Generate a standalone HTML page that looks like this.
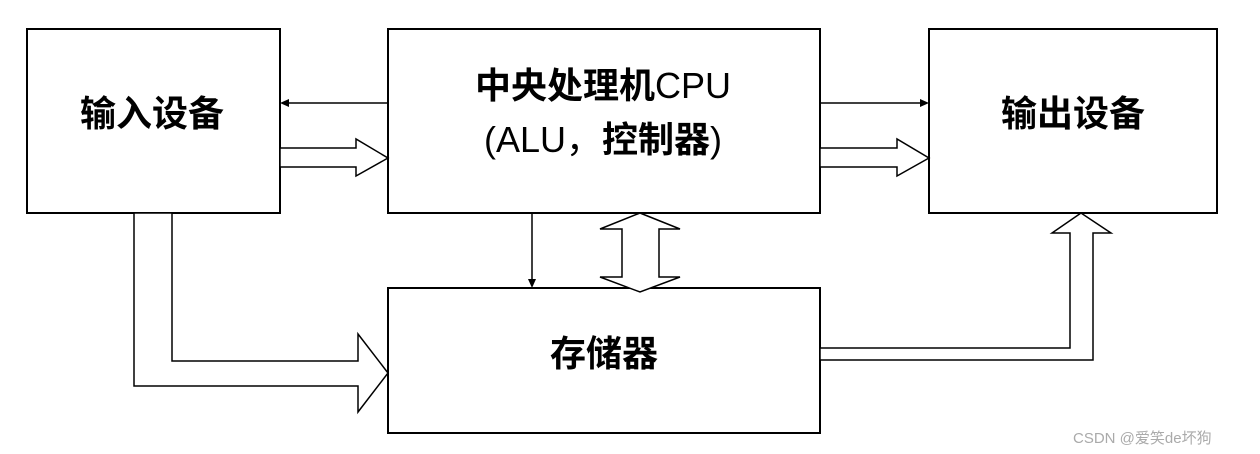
<!DOCTYPE html>
<html><head><meta charset="utf-8"><style>
html,body{margin:0;padding:0;background:#fff;}
svg{display:block;}
.cn{font-family:"Noto Sans CJK SC","WenQuanYi Zen Hei",sans-serif;font-weight:bold;font-size:36px;}
.la{font-family:"Liberation Sans","Noto Sans CJK SC",sans-serif;font-weight:normal;font-size:36px;}
</style></head><body>
<svg width="1260" height="454" viewBox="0 0 1260 454" xmlns="http://www.w3.org/2000/svg">
<g fill="none" stroke="#000" stroke-width="2">
<rect x="27" y="29" width="253" height="184"/>
<rect x="388" y="29" width="432" height="184"/>
<rect x="929" y="29" width="288" height="184"/>
<rect x="388" y="288" width="432" height="145"/>
</g>
<g stroke="#000" stroke-width="1.5" fill="none">
<line x1="388" y1="103" x2="286" y2="103"/>
<line x1="820" y1="103" x2="922" y2="103"/>
<line x1="532" y1="213" x2="532" y2="280"/>
</g>
<g fill="#000">
<polygon points="280,103 289,99 289,107"/>
<polygon points="929,103 920,99 920,107"/>
<polygon points="532,288 528,279 536,279"/>
</g>
<g fill="#fff" stroke="#000" stroke-width="1.5" stroke-linejoin="miter">
<polygon points="280,148 356,148 356,139 388,158 356,176 356,167 280,167"/>
<polygon points="820,148 897,148 897,139 929,158 897,176 897,167 820,167"/>
<polygon points="640,213 680,229 659,229 659,277 680,277 640,292 600,277 622,277 622,229 600,229"/>
<polygon points="134,213 134,386 358,386 358,412 388,373 358,334 358,361 172,361 172,213"/>
<polygon points="820,348 1070,348 1070,233 1052,233 1081,213 1111,233 1093,233 1093,360 820,360"/>
</g>
<text x="152" y="126" text-anchor="middle" class="cn">输入设备</text>
<text x="1073" y="126" text-anchor="middle" class="cn">输出设备</text>
<text x="604" y="366" text-anchor="middle" class="cn">存储器</text>
<text x="603" y="98" text-anchor="middle"><tspan class="cn">中央处理机</tspan><tspan class="la">CPU</tspan></text>
<text x="603" y="152" text-anchor="middle"><tspan class="la">(ALU，</tspan><tspan class="cn">控制器</tspan><tspan class="la">)</tspan></text>
<text x="1073" y="443" font-family="Liberation Sans, Noto Sans CJK SC, sans-serif" font-size="15" fill="#aaa">CSDN @爱笑de坏狗</text>
</svg>
</body></html>
